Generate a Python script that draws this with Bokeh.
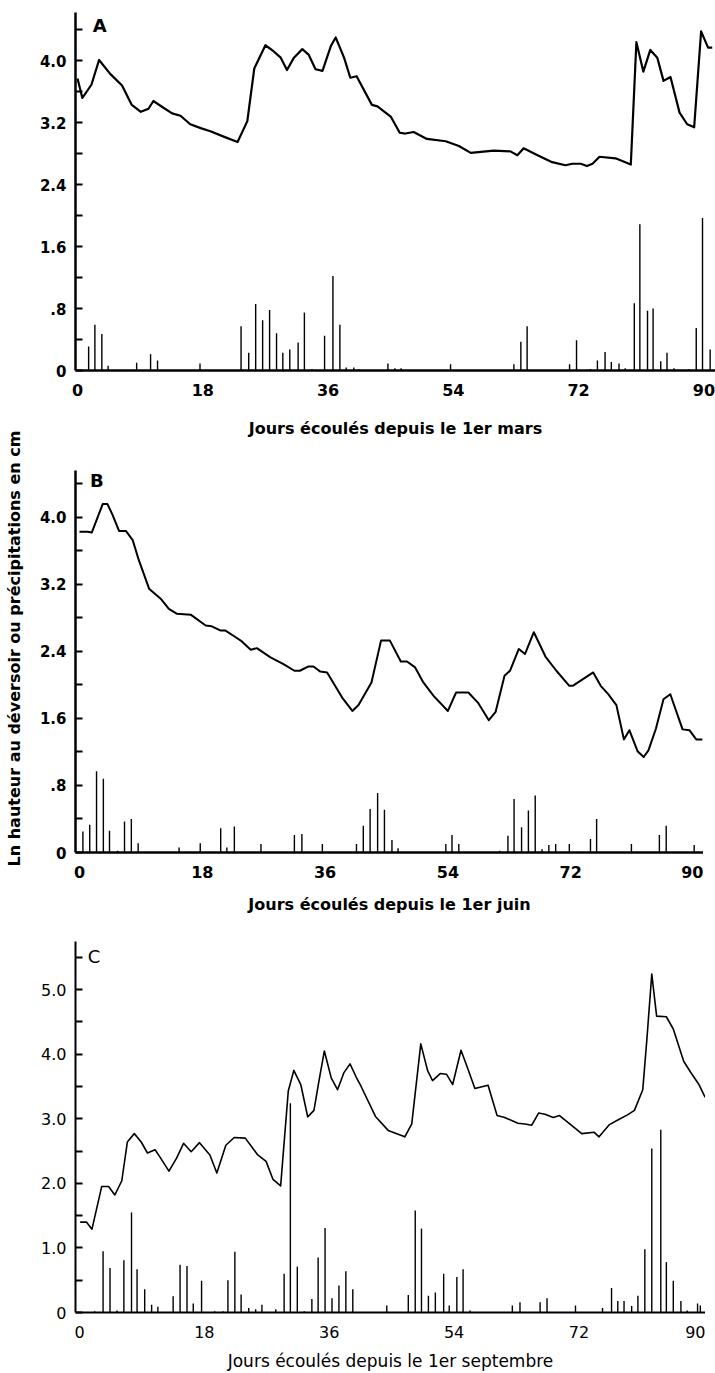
from bokeh.plotting import figure
from bokeh.models import Range1d, FixedTicker, Label, ColumnDataSource
from bokeh.layouts import row, column
from bokeh.embed import file_html
from bokeh.resources import INLINE

# ---------------- data ----------------
# Panel A (from 1 March)
a_line_day = [0.0, 0.7, 2.0, 3.1, 4.7, 6.4, 7.8, 9.1, 10.2, 10.9, 12.4, 13.6, 14.8, 16.2, 17.7, 19.1, 21.0, 23.0, 24.4, 25.4,
              27.0, 28.2, 29.2, 30.1, 31.1, 32.3, 33.2, 34.2, 35.2, 36.4, 37.1, 38.3, 39.2, 40.1, 42.3, 43.1, 45.0, 46.3, 47.1, 48.3,
              50.2, 52.9, 54.8, 56.5, 59.8, 62.2, 63.2, 64.1, 66.1, 68.2, 70.1, 71.1, 72.3, 73.2, 74.0, 75.0, 77.3, 79.5, 80.3, 81.3,
              82.3, 83.3, 84.2, 85.2, 86.5, 87.6, 88.6, 89.6, 90.6, 91.2]
a_line_val = [3.77, 3.52, 3.69, 4.01, 3.83, 3.68, 3.43, 3.34, 3.38, 3.48, 3.39, 3.32, 3.29, 3.18, 3.13, 3.09, 3.02, 2.95, 3.22, 3.90,
              4.20, 4.12, 4.04, 3.88, 4.04, 4.15, 4.08, 3.89, 3.87, 4.19, 4.30, 4.04, 3.78, 3.80, 3.43, 3.41, 3.28, 3.07, 3.06, 3.08,
              2.99, 2.96, 2.90, 2.81, 2.84, 2.83, 2.78, 2.87, 2.78, 2.69, 2.65, 2.67, 2.67, 2.64, 2.67, 2.76, 2.74, 2.66, 4.24, 3.86,
              4.14, 4.04, 3.74, 3.79, 3.33, 3.18, 3.14, 4.38, 4.17, 4.17]
a_rain_day = [1.6, 2.5, 3.5, 4.4, 8.5, 10.5, 11.5, 17.6, 23.5, 24.6, 25.6, 26.6, 27.6, 28.6, 29.5, 30.5, 31.7, 32.6, 33.7, 35.5,
              36.7, 37.7, 38.6, 39.7, 40.4, 44.6, 45.6, 46.5, 53.6, 62.7, 63.7, 64.6, 70.7, 71.7, 73.7, 74.7, 75.8, 76.7, 77.8, 78.7,
              80.0, 80.8, 81.9, 82.7, 83.8, 84.7, 85.7, 87.8, 88.9, 89.8, 90.9]
a_rain_val = [0.31, 0.59, 0.47, 0.06, 0.10, 0.21, 0.13, 0.09, 0.57, 0.23, 0.86, 0.65, 0.78, 0.48, 0.23, 0.27, 0.36, 0.75, 0.02, 0.45,
              1.22, 0.59, 0.04, 0.04, 0.02, 0.09, 0.03, 0.03, 0.08, 0.08, 0.37, 0.57, 0.08, 0.39, 0.02, 0.13, 0.24, 0.11, 0.09, 0.03,
              0.87, 1.89, 0.77, 0.80, 0.12, 0.23, 0.03, 0.02, 0.55, 1.97, 0.27]

# Panel B (from 1 June)
b_line_day = [0.0, 1.2, 1.8, 3.4, 4.1, 4.8, 5.8, 6.8, 7.8, 8.7, 10.2, 11.9, 13.1, 14.3, 16.3, 18.5, 19.4, 20.7, 21.4, 22.9,
              23.8, 25.1, 26.0, 28.0, 29.9, 31.5, 32.3, 33.5, 34.3, 35.3, 36.3, 38.5, 40.0, 40.9, 42.8, 44.2, 45.5, 47.1, 48.0, 49.2,
              50.4, 51.9, 54.0, 55.2, 57.0, 58.4, 60.0, 61.0, 62.3, 63.1, 64.4, 65.3, 66.6, 68.3, 69.9, 71.8, 72.3, 75.3, 76.4, 77.5,
              78.7, 79.8, 80.6, 81.8, 82.7, 83.4, 84.5, 85.6, 86.6, 88.4, 89.4, 90.4, 91.3]
b_line_val = [3.83, 3.83, 3.82, 4.16, 4.16, 4.04, 3.84, 3.84, 3.73, 3.49, 3.15, 3.03, 2.91, 2.85, 2.84, 2.71, 2.70, 2.65, 2.65, 2.57,
              2.52, 2.42, 2.44, 2.33, 2.25, 2.17, 2.17, 2.22, 2.22, 2.16, 2.15, 1.85, 1.69, 1.76, 2.03, 2.53, 2.53, 2.28, 2.28, 2.21,
              2.03, 1.87, 1.69, 1.91, 1.91, 1.79, 1.58, 1.68, 2.11, 2.17, 2.43, 2.37, 2.63, 2.34, 2.17, 1.99, 1.99, 2.15, 1.99, 1.89,
              1.76, 1.35, 1.46, 1.21, 1.14, 1.22, 1.48, 1.83, 1.89, 1.47, 1.46, 1.35, 1.35]
b_rain_day = [0.5, 1.5, 2.5, 3.5, 4.4, 5.6, 6.6, 7.6, 8.6, 14.6, 17.7, 20.7, 21.6, 22.7, 26.6, 31.5, 32.6, 35.6, 40.6, 41.6,
              42.6, 43.7, 44.7, 45.8, 46.7, 53.7, 54.6, 55.6, 61.6, 62.8, 63.7, 64.8, 65.8, 66.8, 67.8, 68.8, 69.8, 71.8, 74.9, 75.8,
              80.9, 85.0, 86.0, 90.1]
b_rain_val = [0.25, 0.33, 0.97, 0.88, 0.26, 0.02, 0.37, 0.40, 0.11, 0.06, 0.11, 0.29, 0.06, 0.31, 0.10, 0.21, 0.22, 0.10, 0.10, 0.32,
              0.52, 0.71, 0.51, 0.15, 0.05, 0.10, 0.21, 0.10, 0.02, 0.20, 0.64, 0.30, 0.50, 0.68, 0.04, 0.09, 0.10, 0.10, 0.16, 0.40,
              0.10, 0.21, 0.32, 0.09]

# Panel C (from 1 September)
c_line_day = [0.1, 1.0, 1.8, 3.2, 4.2, 5.1, 6.1, 6.9, 7.9, 8.9, 9.8, 10.9, 11.7, 12.9, 14.0, 15.0, 16.1, 17.3, 18.8, 19.8,
              21.1, 22.3, 23.9, 25.7, 26.9, 27.9, 29.0, 30.1, 30.9, 31.9, 32.9, 33.8, 34.5, 35.3, 36.3, 37.2, 38.1, 39.0, 40.0, 40.6,
              42.7, 44.5, 46.9, 47.9, 49.2, 50.2, 50.9, 52.0, 52.9, 53.8, 55.0, 56.1, 57.0, 58.9, 60.2, 61.3, 63.2, 64.2, 65.2, 66.2,
              67.1, 68.3, 69.2, 70.9, 72.4, 74.2, 74.9, 76.4, 77.6, 79.0, 80.0, 81.2, 81.8, 82.5, 83.2, 84.6, 85.6, 87.1, 88.1, 89.3,
              90.2]
c_line_val = [1.40, 1.40, 1.29, 1.95, 1.95, 1.82, 2.04, 2.64, 2.77, 2.64, 2.47, 2.52, 2.39, 2.19, 2.39, 2.62, 2.49, 2.63, 2.44, 2.16,
              2.59, 2.71, 2.70, 2.44, 2.34, 2.06, 1.96, 3.43, 3.75, 3.53, 3.03, 3.13, 3.57, 4.05, 3.63, 3.45, 3.71, 3.85, 3.62, 3.50,
              3.03, 2.82, 2.72, 2.92, 4.16, 3.74, 3.59, 3.70, 3.69, 3.53, 4.06, 3.74, 3.47, 3.52, 3.05, 3.02, 2.93, 2.92, 2.90, 3.09,
              3.07, 3.02, 3.05, 2.90, 2.77, 2.79, 2.72, 2.91, 2.98, 3.06, 3.13, 3.45, 4.24, 5.24, 4.59, 4.58, 4.39, 3.89, 3.72, 3.53,
              3.33]
c_rain_day = [2.2, 3.4, 4.4, 5.4, 6.4, 7.5, 8.3, 9.4, 10.4, 11.3, 13.5, 14.5, 15.5, 16.4, 17.6, 19.5, 20.7, 21.4, 22.4, 23.3,
              24.4, 25.4, 26.3, 28.3, 29.5, 30.4, 31.4, 32.4, 33.5, 34.4, 35.4, 36.4, 37.4, 38.4, 39.4, 44.3, 47.4, 48.4, 49.3, 50.3,
              51.3, 52.5, 53.3, 54.4, 55.3, 56.3, 62.4, 63.5, 66.4, 67.4, 71.5, 75.4, 76.7, 77.6, 78.5, 79.6, 80.5, 81.5, 82.5, 83.8,
              84.6, 85.6, 86.7, 87.6, 89.1, 89.5]
c_rain_val = [0.02, 0.95, 0.69, 0.03, 0.81, 1.55, 0.67, 0.36, 0.12, 0.09, 0.25, 0.74, 0.72, 0.14, 0.49, 0.02, 0.02, 0.50, 0.94, 0.28,
              0.07, 0.05, 0.12, 0.05, 0.60, 3.24, 0.71, 0.02, 0.21, 0.85, 1.31, 0.22, 0.42, 0.64, 0.36, 0.11, 0.27, 1.58, 1.30, 0.26,
              0.31, 0.60, 0.11, 0.55, 0.67, 0.03, 0.11, 0.16, 0.16, 0.22, 0.11, 0.07, 0.38, 0.18, 0.18, 0.10, 0.26, 0.98, 2.54, 2.83,
              0.78, 0.49, 0.18, 0.03, 0.14, 0.11]

x_ticks = [0, 18, 36, 54, 72, 90]
a_y_ticks = [0, 0.8, 1.6, 2.4, 3.2, 4.0]
a_y_minor = [0.4, 1.2, 2.0, 2.8, 3.6, 4.4]
a_y_labels = ["0", ".8", "1.6", "2.4", "3.2", "4.0"]
c_y_ticks = [0, 1.0, 2.0, 3.0, 4.0, 5.0]
c_y_minor = [0.5, 1.5, 2.5, 3.5, 4.5, 5.5]
c_y_labels = ["0", "1.0", "2.0", "3.0", "4.0", "5.0"]

x_titles = ["Jours écoulés depuis le 1er mars",
            "Jours écoulés depuis le 1er juin",
            "Jours écoulés depuis le 1er septembre"]
panel_letters = ["A", "B", "C"]
y_title = "Ln hauteur au déversoir ou précipitations en cm"

FONT = "DejaVu Sans"
LEFT_W = 25


def make_panel(letter, letter_pos, line_day, line_val, rain_day, rain_val,
               xr, yr, width, height, borders, yticks, yminor, ylabels,
               xtitle, bold, lw, axis_lw, label_standoff):
    top, bottom, left = borders
    p = figure(width=width, height=height, x_range=Range1d(*xr), y_range=Range1d(*yr),
               output_backend="svg", toolbar_location=None,
               min_border_left=left, min_border_right=0, min_border_top=top, min_border_bottom=bottom)
    p.grid.visible = False
    p.outline_line_color = None
    p.background_fill_color = "white"
    p.border_fill_color = "white"

    rain_src = ColumnDataSource(dict(x=rain_day, top=rain_val, base=[0.0] * len(rain_day)))
    p.segment(x0="x", y0="base", x1="x", y1="top", source=rain_src, line_color="black", line_width=1.4)
    line_src = ColumnDataSource(dict(x=line_day, y=line_val))
    p.line(x="x", y="y", source=line_src, line_color="black", line_width=lw, line_join="round")

    style = "bold" if bold else "normal"
    # x axis
    xa = p.xaxis[0]
    xa.ticker = FixedTicker(ticks=x_ticks)
    xa.major_tick_line_color = None
    xa.minor_tick_line_color = None
    xa.axis_line_width = axis_lw
    xa.axis_line_color = "black"
    xa.major_label_standoff = 7
    xa.major_label_text_font = FONT
    xa.major_label_text_font_size = "16px"
    xa.major_label_text_font_style = style
    xa.major_label_text_color = "black"
    xa.axis_label = xtitle
    xa.axis_label_text_font = FONT
    xa.axis_label_text_font_size = "16px" if bold else "17px"
    xa.axis_label_text_font_style = style
    xa.axis_label_text_color = "black"
    xa.axis_label_standoff = label_standoff

    # y axis
    ya = p.yaxis[0]
    ya.ticker = FixedTicker(ticks=yticks, minor_ticks=yminor)
    ya.major_label_overrides = {t: s for t, s in zip(yticks, ylabels)}
    ya.axis_line_width = axis_lw
    ya.axis_line_color = "black"
    ya.major_tick_in = 7
    ya.major_tick_out = 0
    ya.minor_tick_in = 7
    ya.minor_tick_out = 0
    ya.major_tick_line_width = 2
    ya.minor_tick_line_width = 2
    ya.major_tick_line_color = "black"
    ya.minor_tick_line_color = "black"
    ya.major_label_standoff = 9
    ya.major_label_text_font = FONT
    ya.major_label_text_font_size = "15px" if bold else "16px"
    ya.major_label_text_font_style = style
    ya.major_label_text_color = "black"

    p.add_layout(Label(x=letter_pos[0], y=letter_pos[1], text=letter, text_font=FONT,
                       text_font_size="18px", text_font_style=style, text_color="black",
                       text_align="center", text_baseline="middle"))
    return p


pA = make_panel(panel_letters[0], (3.2, 4.46), a_line_day, a_line_val, a_rain_day, a_rain_val,
                (-0.287, 91.667), (0, 4.623), 715 - LEFT_W, 440, (12, 60, 75 - LEFT_W),
                a_y_ticks, a_y_minor, a_y_labels, x_titles[0], True, 2.2, 2.5, 20)
pB = make_panel(panel_letters[1], (2.56, 4.44), b_line_day, b_line_val, b_rain_day, b_rain_val,
                (-0.584, 91.467), (0, 4.561), 703 - LEFT_W, 480, (30, 68, 73 - LEFT_W),
                a_y_ticks, a_y_minor, a_y_labels, x_titles[1], True, 2.0, 2.5, 14)
pC = make_panel(panel_letters[2], (2.08, 5.52), c_line_day, c_line_val, c_rain_day, c_rain_val,
                (-0.574, 90.244), (0, 5.745), 705 - LEFT_W, 453, (21, 54, 72 - LEFT_W),
                c_y_ticks, c_y_minor, c_y_labels, x_titles[2], False, 1.6, 2.0, 10)

# left strip carrying the shared vertical title
pL = figure(width=LEFT_W, height=1373, x_range=Range1d(0, LEFT_W), y_range=Range1d(0, 1373),
            output_backend="svg", toolbar_location=None,
            min_border_left=0, min_border_right=0, min_border_top=0, min_border_bottom=0)
pL.axis.visible = False
pL.grid.visible = False
pL.outline_line_color = None
pL.add_layout(Label(x=14, y=1373 - 648, text=y_title, angle=1.5707963, text_font=FONT,
                    text_font_size="16px", text_font_style="bold", text_color="black",
                    text_align="center", text_baseline="middle"))

layout = row(pL, column(pA, pB, pC, spacing=0), spacing=0)

open("out.html", "w").write(file_html(layout, INLINE))
